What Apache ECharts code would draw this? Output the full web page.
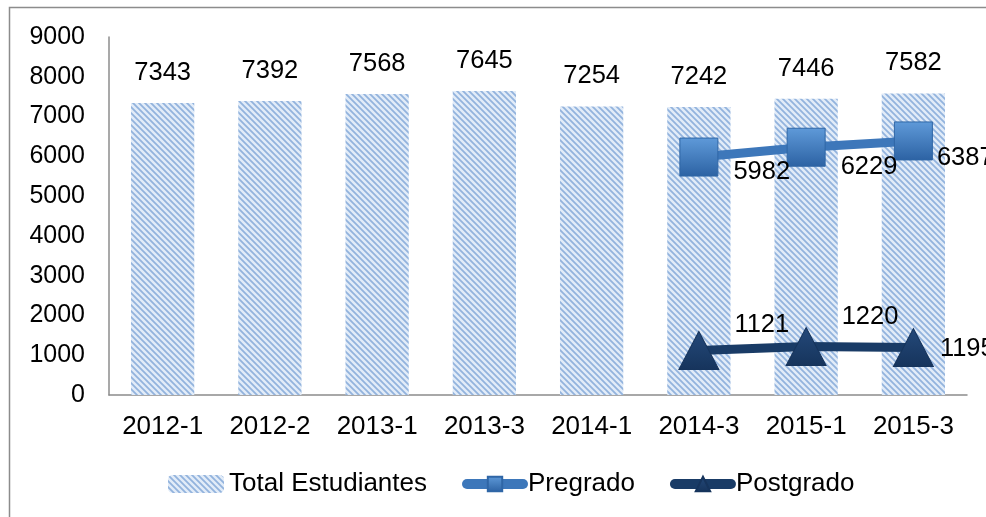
<!DOCTYPE html>
<html>
<head>
<meta charset="utf-8">
<script src="https://cdn.jsdelivr.net/npm/echarts@6/dist/echarts.min.js"></script>
<style>
  html, body { margin: 0; padding: 0; background: #fff; }
  #charts { width: 986px; height: 517px; }
</style>
</head>
<body>
<div id="charts"></div>
<script>
// 数据
var periodos = ['2012-1', '2012-2', '2013-1', '2013-3', '2014-1', '2014-3', '2015-1', '2015-3'];
var totalEstudiantes = [7343, 7392, 7568, 7645, 7254, 7242, 7446, 7582];
var pregrado = [null, null, null, null, null, 5982, 6229, 6387];
var postgrado = [null, null, null, null, null, 1121, 1220, 1195];
var yTicks = [0, 1000, 2000, 3000, 4000, 5000, 6000, 7000, 8000, 9000];

// 标签偏移 (和原图手动摆放的位置一致)
var pregradoOffsets = [null, null, null, null, null, [0, 15], [0, 20], [-11, 17]];
var postgradoOffsets = [null, null, null, null, null, [0, -25], [0, -30], [-9, 2]];

var FONT = 'Liberation Sans, Arial, sans-serif';

// 柱子的斜线填充
function makeStripes() {
    var c = document.createElement('canvas');
    c.width = 6; c.height = 6;
    var ctx = c.getContext('2d');
    ctx.fillStyle = '#e2ecf8';
    ctx.fillRect(0, 0, 6, 6);
    ctx.strokeStyle = '#92b3dd';
    ctx.lineWidth = 1.8;
    ctx.beginPath();
    ctx.moveTo(-2, -2); ctx.lineTo(8, 8);
    ctx.moveTo(-5, 1); ctx.lineTo(5, 11);
    ctx.moveTo(1, -5); ctx.lineTo(11, 5);
    ctx.stroke();
    return c;
}
var stripes = makeStripes();

function withLabels(values, offsets) {
    var list = [];
    for (var i = 0; i < values.length; i++) {
        if (values[i] == null) { list.push(null); continue; }
        list.push({ value: values[i], label: { offset: offsets[i] } });
    }
    return list;
}

var myChart = echarts.init(document.getElementById('charts'));

var option = {
    animation: false,
    textStyle: { fontFamily: FONT },
    graphic: [{
        type: 'rect',
        shape: { x: 9.5, y: 7.5, width: 1000, height: 600 },
        style: { fill: 'none', stroke: '#8c8c8c', lineWidth: 1.5 },
        z: -1
    }],
    grid: { left: 109, right: 19, top: 37, bottom: 122 },
    legend: {
        left: 163,
        top: 466,
        itemWidth: 56,
        itemHeight: 18,
        itemGap: 35,
        textStyle: { fontSize: 26, color: '#000', fontFamily: FONT },
        data: [
            { name: 'Total Estudiantes' },
            { name: 'Pregrado', lineStyle: { width: 10, cap: 'round' } },
            { name: 'Postgrado', lineStyle: { width: 10, cap: 'round' } }
        ]
    },
    xAxis: {
        type: 'category',
        data: periodos,
        axisLine: { lineStyle: { color: '#8c8c8c', width: 1.5 } },
        axisTick: { show: false },
        axisLabel: { fontSize: 26, color: '#000', margin: 19, fontFamily: FONT }
    },
    yAxis: {
        type: 'value',
        min: yTicks[0],
        max: yTicks[yTicks.length - 1],
        interval: 1000,
        axisLine: { show: true, lineStyle: { color: '#8c8c8c', width: 1.5 } },
        axisTick: { show: false },
        splitLine: { show: false },
        axisLabel: {
            fontSize: 25, color: '#000', margin: 24, fontFamily: FONT,
            formatter: function (v) { return String(v); }
        }
    },
    series: [
        {
            name: 'Total Estudiantes',
            type: 'bar',
            barWidth: '59%',
            data: totalEstudiantes,
            itemStyle: {
                color: { image: stripes, repeat: 'repeat' }
            },
            label: {
                show: true,
                position: 'top',
                distance: 17,
                fontSize: 25.5,
                color: '#000',
                fontFamily: FONT
            }
        },
        {
            name: 'Pregrado',
            type: 'line',
            data: withLabels(pregrado, pregradoOffsets),
            symbol: 'rect',
            symbolSize: 38,
            lineStyle: { color: '#3d77ba', width: 9 },
            itemStyle: {
                color: new echarts.graphic.LinearGradient(0, 0, 0, 1, [
                    { offset: 0, color: '#5f9ad9' },
                    { offset: 1, color: '#2c62a3' }
                ]),
                borderColor: '#2f66a6',
                borderWidth: 1
            },
            label: {
                show: true,
                position: 'right',
                distance: 15,
                fontSize: 25.5,
                color: '#000',
                fontFamily: FONT
            },
            z: 3
        },
        {
            name: 'Postgrado',
            type: 'line',
            data: withLabels(postgrado, postgradoOffsets),
            symbol: 'triangle',
            symbolSize: [40, 38],
            lineStyle: { color: '#193b66', width: 9 },
            itemStyle: {
                color: new echarts.graphic.LinearGradient(0, 0, 0, 1, [
                    { offset: 0, color: '#24497a' },
                    { offset: 1, color: '#16345c' }
                ]),
                borderColor: '#16345c',
                borderWidth: 1
            },
            label: {
                show: true,
                position: 'right',
                distance: 15,
                fontSize: 25.5,
                color: '#000',
                fontFamily: FONT
            },
            z: 3
        }
    ]
};

myChart.setOption(option);
</script>
</body>
</html>
